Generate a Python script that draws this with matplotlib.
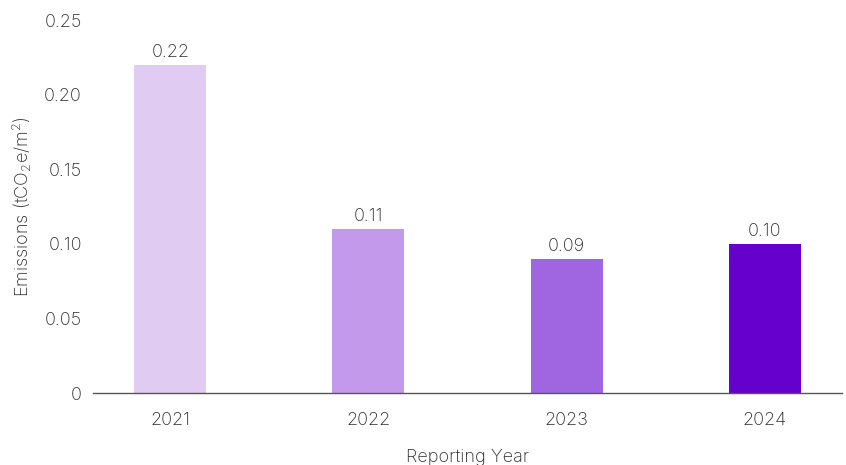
import matplotlib.pyplot as plt

# Emissions intensity by reporting year
years = ["2021", "2022", "2023", "2024"]
emissions = [0.22, 0.11, 0.09, 0.10]
bar_colors = ["#E0CCF3", "#C39AEB", "#A066E2", "#6600CC"]
y_ticks = [0, 0.05, 0.10, 0.15, 0.20, 0.25]
y_tick_labels = ["0", "0.05", "0.10", "0.15", "0.20", "0.25"]

plt.rcParams["font.family"] = ["Inter", "DejaVu Sans"]
plt.rcParams["mathtext.fontset"] = "custom"
plt.rcParams["mathtext.rm"] = "Inter:light"
plt.rcParams["mathtext.it"] = "Inter:light"
text_color = "#2a2a2a"
fs = 13

fig = plt.figure(figsize=(8.46, 4.65), dpi=100)
ax = fig.add_axes([93 / 846, 1 - 393 / 465, (842 - 93) / 846, (393 - 20) / 465])

x = range(len(years))
bars = ax.bar(x, emissions, width=0.364, color=bar_colors)

# value labels above each bar
for xi, v in zip(x, emissions):
    ax.text(xi, v + 0.0025, f"{v:.2f}", ha="center", va="bottom",
            fontsize=fs, color=text_color, fontweight="light")

ax.set_xlim(-0.39, 3.39)
ax.set_ylim(0, 0.25)
ax.set_xticks(list(x))
ax.set_xticklabels(years, fontweight="light")
ax.set_yticks(y_ticks)
ax.set_yticklabels(y_tick_labels, fontweight="light")
ax.tick_params(axis="both", length=0, labelsize=fs, labelcolor=text_color)
ax.tick_params(axis="x", pad=14)
ax.tick_params(axis="y", pad=8)

for side in ["top", "right", "left"]:
    ax.spines[side].set_visible(False)
ax.spines["bottom"].set_color("#555555")
ax.spines["bottom"].set_linewidth(1.0)

ax.set_xlabel("Reporting Year", fontsize=fs, color=text_color,
              fontweight="light", labelpad=14)
ax.set_ylabel("Emissions (tCO$_\\mathrm{2}$e/m$^\\mathrm{2}$)", fontsize=fs,
              color=text_color, fontweight="light", labelpad=7)

fig.savefig("out.png", dpi=100)
